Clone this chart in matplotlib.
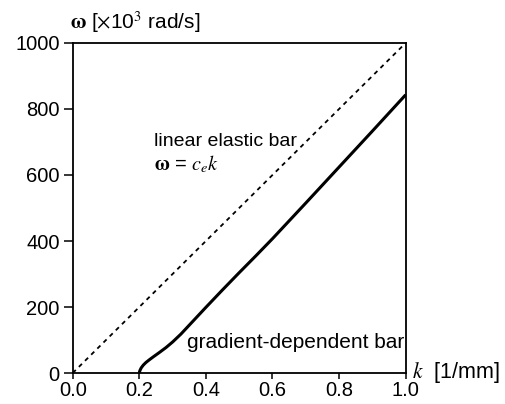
import matplotlib
matplotlib.use("Agg")
import matplotlib.pyplot as plt

# elastic reference line and the gradient-dependent dispersion curve
k_elastic = [0.0, 1.0]
omega_elastic = [0.0, 1000.0]

k_gradient = [0.2, 0.201, 0.203, 0.206, 0.212, 0.22, 0.23, 0.242, 0.26, 0.28, 0.3,
              0.325, 0.35, 0.375, 0.4, 0.45, 0.5, 0.55, 0.6, 0.7, 0.8, 0.9, 1.0]
omega_gradient = [0, 5, 10, 16, 24, 32, 40, 49, 62, 77, 94,
                  118, 145, 172, 199, 252, 304, 355, 407, 515, 624, 733, 843]

x_ticks = [0.0, 0.2, 0.4, 0.6, 0.8, 1.0]
y_ticks = [0, 200, 400, 600, 800, 1000]

plt.rcParams["font.family"] = ["Liberation Sans", "DejaVu Sans"]
plt.rcParams["mathtext.fontset"] = "stix"

fig = plt.figure(figsize=(5.06, 4.04), dpi=100)
ax = fig.add_axes([0.1437, 0.0767, 0.658, 0.8169])

ax.plot(k_elastic, omega_elastic, color="black", linestyle=(0, (2.4, 2.4)), linewidth=1.3)
ax.plot(k_gradient, omega_gradient, color="black", linewidth=2.2, solid_capstyle="butt")

ax.set_xlim(0.0, 1.0)
ax.set_ylim(0, 1000)
ax.set_xticks(x_ticks)
ax.set_xticklabels([f"{t:.1f}" for t in x_ticks])
ax.set_yticks(y_ticks)
ax.tick_params(direction="out", width=1.1, labelsize=14.5, colors="black")
ax.tick_params(axis="y", length=6.5, pad=3)
ax.tick_params(axis="x", length=4.5, pad=1.5)
for spine in ax.spines.values():
    spine.set_linewidth(1.3)

ax.text(0.245, 703, "linear elastic bar", fontsize=14, va="center", ha="left")
ax.text(0.245, 633, r"$\mathbf{\omega}$ = $c_e k$", fontsize=14.5, va="center", ha="left")
ax.text(0.995, 92, "gradient-dependent bar", fontsize=15, va="center", ha="right")

fig.text(0.139, 0.946, r"$\mathbf{\omega}$ [$\times$10$^3$ rad/s]", fontsize=15, va="center", ha="left")
fig.text(0.815, 0.077, r"$k$  [1/mm]", fontsize=15.5, va="center", ha="left")

fig.savefig("out.png", dpi=100)
plt.close(fig)
